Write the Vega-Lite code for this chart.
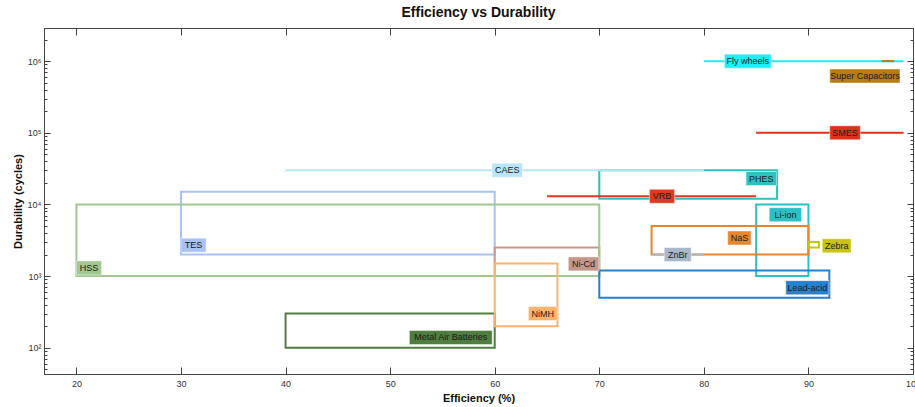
{
  "$schema": "https://vega.github.io/schema/vega-lite/v6.json",
  "width": 869,
  "height": 346,
  "autosize": "none",
  "padding": {"left": 44, "top": 28, "right": 2, "bottom": 33},
  "title": {"text": "Efficiency vs Durability", "fontSize": 14, "font": "Liberation Sans", "fontWeight": "bold", "color": "#111111", "offset": 8, "anchor": "middle"},
  "config": {"view": {"stroke": "#555555", "strokeWidth": 1}, "font": "Liberation Sans"},
  "data": {"values": [
    {"tech": "TES", "kind": "box", "xlo": 30, "xhi": 60, "ylo": 2000, "yhi": 15000, "lx": 31.2, "ly": 2700},
    {"tech": "Ni-Cd", "kind": "box", "xlo": 60, "xhi": 70, "ylo": 1000, "yhi": 2500, "lx": 68.5, "ly": 1480},
    {"tech": "HSS", "kind": "box", "xlo": 20, "xhi": 70, "ylo": 1000, "yhi": 10000, "lx": 21.2, "ly": 1300},
    {"tech": "Metal Air Batteries", "kind": "box", "xlo": 40, "xhi": 60, "ylo": 100, "yhi": 300, "lx": 55.8, "ly": 139},
    {"tech": "NiMH", "kind": "box", "xlo": 60, "xhi": 66, "ylo": 200, "yhi": 1500, "lx": 64.6, "ly": 300},
    {"tech": "PHES", "kind": "box", "xlo": 70, "xhi": 87, "ylo": 12000, "yhi": 30000, "lx": 85.5, "ly": 23000},
    {"tech": "Li-ion", "kind": "box", "xlo": 85, "xhi": 90, "ylo": 1000, "yhi": 10000, "lx": 87.8, "ly": 7200},
    {"tech": "NaS", "kind": "box", "xlo": 75, "xhi": 90, "ylo": 2000, "yhi": 5000, "lx": 83.4, "ly": 3400},
    {"tech": "Zebra", "kind": "box", "xlo": 90, "xhi": 91, "ylo": 2500, "yhi": 3000, "lx": 92.7, "ly": 2650},
    {"tech": "Lead-acid", "kind": "box", "xlo": 70, "xhi": 92, "ylo": 500, "yhi": 1200, "lx": 89.9, "ly": 690},
    {"tech": "CAES", "kind": "line", "xlo": 40, "xhi": 80, "ylo": 30000, "yhi": 30000, "lx": 61.2, "ly": 30000},
    {"tech": "VRB", "kind": "line", "xlo": 65, "xhi": 85, "ylo": 13000, "yhi": 13000, "lx": 76, "ly": 13000},
    {"tech": "ZnBr", "kind": "line", "xlo": 75, "xhi": 80, "ylo": 2000, "yhi": 2000, "lx": 77.5, "ly": 2000},
    {"tech": "Fly wheels", "kind": "line", "xlo": 80, "xhi": 99.1, "ylo": 1000000, "yhi": 1000000, "lx": 84.2, "ly": 1000000},
    {"tech": "Super Capacitors", "kind": "line", "xlo": 97, "xhi": 98.2, "ylo": 1000000, "yhi": 1000000, "lx": 95.4, "ly": 620000},
    {"tech": "SMES", "kind": "line", "xlo": 85, "xhi": 99.1, "ylo": 100000, "yhi": 100000, "lx": 93.5, "ly": 100000}
  ]},
  "layer": [
    {
      "transform": [{"filter": "datum.kind == 'box'"}],
      "mark": {"type": "rect", "filled": false, "strokeWidth": 2},
      "encoding": {
        "x": {"field": "xlo", "type": "quantitative",
          "scale": {"domain": [16.9, 100], "nice": false, "zero": false},
          "axis": {"orient": "bottom", "values": [20, 30, 40, 50, 60, 70, 80, 90, 100], "tickSize": -7, "tickColor": "#444444", "domainColor": "#444444", "labelFontSize": 9, "labelColor": "#333333", "labelPadding": 12, "labelFlush": false, "grid": false, "title": "Efficiency (%)", "titleFontSize": 11, "titleFontWeight": "bold", "titleColor": "#111111", "titlePadding": 4}},
        "x2": {"field": "xhi"},
        "y": {"field": "ylo", "type": "quantitative",
          "scale": {"type": "log", "domain": [43, 2900000], "nice": false},
          "axis": {"orient": "left",
            "values": [50, 60, 70, 80, 90, 100, 200, 300, 400, 500, 600, 700, 800, 900, 1000, 2000, 3000, 4000, 5000, 6000, 7000, 8000, 9000, 10000, 20000, 30000, 40000, 50000, 60000, 70000, 80000, 90000, 100000, 200000, 300000, 400000, 500000, 600000, 700000, 800000, 900000, 1000000, 2000000],
            "labelExpr": "abs(log(datum.value)/LN10 - round(log(datum.value)/LN10)) < 0.000001 ? '10' + ['⁰','¹','²','³','⁴','⁵','⁶','⁷'][round(log(datum.value)/LN10)] : ''",
            "tickSize": {"condition": {"test": "abs(log(datum.value)/LN10 - round(log(datum.value)/LN10)) < 0.000001", "value": -6}, "value": -3},
            "tickColor": "#444444", "domainColor": "#444444", "labelFontSize": 9, "labelColor": "#333333", "labelPadding": 9, "labelFlush": false, "labelOverlap": false, "grid": false,
            "title": "Durability (cycles)", "titleFontSize": 11, "titleFontWeight": "bold", "titleColor": "#111111", "titlePadding": 4}},
        "y2": {"field": "yhi"},
        "color": {"field": "tech", "type": "nominal", "legend": null,
          "scale": {"domain": ["TES", "Ni-Cd", "HSS", "Metal Air Batteries", "NiMH", "PHES", "Li-ion", "NaS", "Zebra", "Lead-acid", "CAES", "VRB", "ZnBr", "Fly wheels", "Super Capacitors", "SMES"],
            "range": ["#A9C2F4", "#C4978A", "#A0C890", "#507E40", "#FFB26A", "#2CC2C0", "#2CC0C4", "#E8862A", "#C8C40A", "#2582D0", "#B6E6F8", "#DE3A22", "#A8B8C8", "#1EEEF6", "#B87C14", "#E2301A"]}}
      }
    },
    {
      "transform": [{"filter": "datum.kind == 'line'"}],
      "mark": {"type": "rule", "strokeWidth": 2},
      "encoding": {
        "x": {"field": "xlo", "type": "quantitative",
          "axis": {"orient": "top", "values": [20, 30, 40, 50, 60, 70, 80, 90, 100], "tickSize": -7, "tickColor": "#444444", "domainColor": "#444444", "labels": false, "grid": false, "title": null}},
        "x2": {"field": "xhi"},
        "y": {"field": "ylo", "type": "quantitative",
          "axis": {"orient": "right",
            "values": [50, 60, 70, 80, 90, 100, 200, 300, 400, 500, 600, 700, 800, 900, 1000, 2000, 3000, 4000, 5000, 6000, 7000, 8000, 9000, 10000, 20000, 30000, 40000, 50000, 60000, 70000, 80000, 90000, 100000, 200000, 300000, 400000, 500000, 600000, 700000, 800000, 900000, 1000000, 2000000],
            "tickSize": {"condition": {"test": "abs(log(datum.value)/LN10 - round(log(datum.value)/LN10)) < 0.000001", "value": -6}, "value": -3},
            "tickColor": "#444444", "domainColor": "#444444", "labels": false, "grid": false, "title": null}},
        "color": {"field": "tech", "type": "nominal", "legend": null}
      }
    },
    {
      "mark": {"type": "rect", "stroke": "#ffffff", "strokeOpacity": 0.45, "strokeWidth": 1,
        "xOffset": {"expr": "-(3.6*length(datum.tech) + 1.8*length(replace(datum.tech, /[^A-Z]/g, '')) + 9)/2"},
        "x2Offset": {"expr": "(3.6*length(datum.tech) + 1.8*length(replace(datum.tech, /[^A-Z]/g, '')) + 9)/2"},
        "yOffset": -7, "y2Offset": 7},
      "encoding": {
        "x": {"field": "lx", "type": "quantitative", "axis": null},
        "x2": {"field": "lx"},
        "y": {"field": "ly", "type": "quantitative", "axis": null},
        "y2": {"field": "ly"},
        "color": {"field": "tech", "type": "nominal", "legend": null}
      }
    },
    {
      "mark": {"type": "text", "fontSize": 9, "font": "Liberation Sans", "color": "#1a1a1a", "align": "center", "baseline": "middle"},
      "encoding": {
        "x": {"field": "lx", "type": "quantitative", "axis": null},
        "y": {"field": "ly", "type": "quantitative", "axis": null},
        "text": {"field": "tech"}
      }
    }
  ]
}
